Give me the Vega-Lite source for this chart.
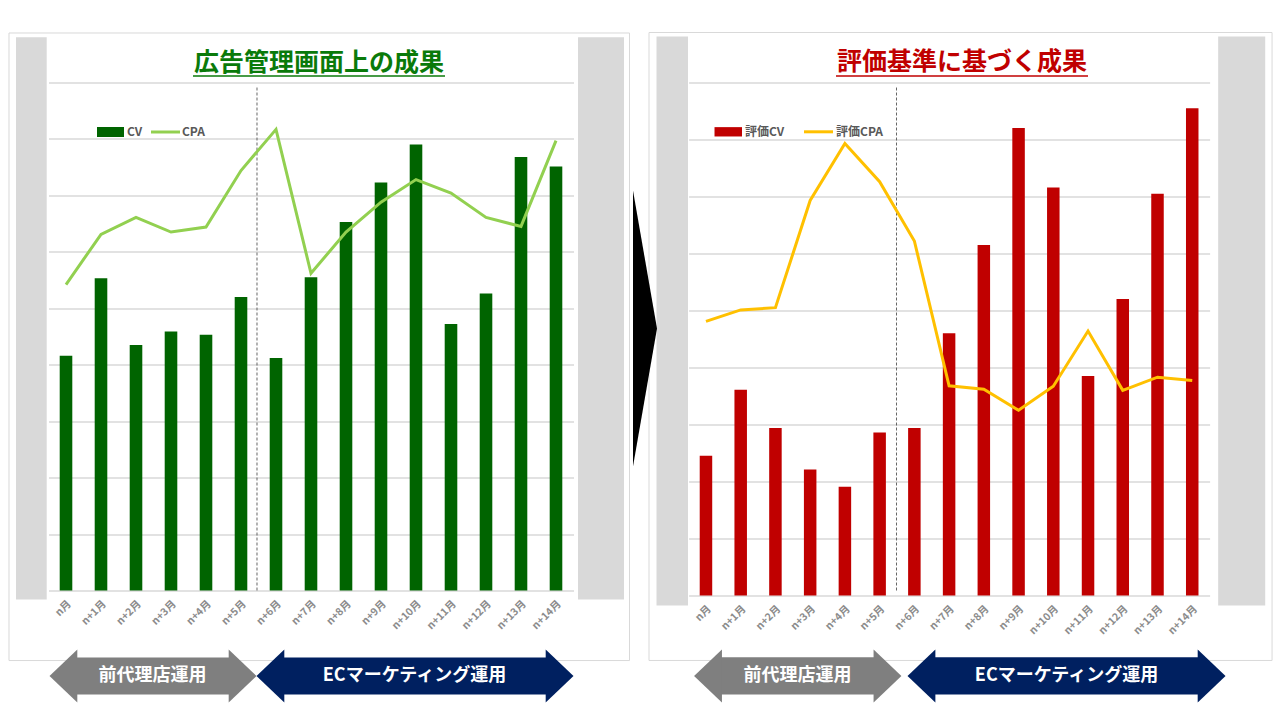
{
  "$schema": "https://vega.github.io/schema/vega-lite/v6.json",
  "background": "white",
  "padding": {"left": 7.5, "top": 31.5, "right": 0, "bottom": 0},
  "bounds": "flush",
  "spacing": 115.1,
  "config": {"view": {"stroke": null}, "font": "Noto Sans CJK JP"},
  "datasets": {
    "left": [
      {"month": "n月", "cv": 4.16, "cpa": 5.42},
      {"month": "n+1月", "cv": 5.53, "cpa": 6.31},
      {"month": "n+2月", "cv": 4.35, "cpa": 6.61},
      {"month": "n+3月", "cv": 4.59, "cpa": 6.35},
      {"month": "n+4月", "cv": 4.53, "cpa": 6.44},
      {"month": "n+5月", "cv": 5.2, "cpa": 7.44},
      {"month": "n+6月", "cv": 4.12, "cpa": 8.17},
      {"month": "n+7月", "cv": 5.55, "cpa": 5.62},
      {"month": "n+8月", "cv": 6.53, "cpa": 6.35},
      {"month": "n+9月", "cv": 7.23, "cpa": 6.88},
      {"month": "n+10月", "cv": 7.9, "cpa": 7.28},
      {"month": "n+11月", "cv": 4.72, "cpa": 7.04},
      {"month": "n+12月", "cv": 5.26, "cpa": 6.61},
      {"month": "n+13月", "cv": 7.68, "cpa": 6.45},
      {"month": "n+14月", "cv": 7.51, "cpa": 7.97}
    ],
    "right": [
      {"month": "n月", "cv": 2.45, "cpa": 4.81},
      {"month": "n+1月", "cv": 3.61, "cpa": 5.01},
      {"month": "n+2月", "cv": 2.94, "cpa": 5.05},
      {"month": "n+3月", "cv": 2.21, "cpa": 6.93},
      {"month": "n+4月", "cv": 1.91, "cpa": 7.93},
      {"month": "n+5月", "cv": 2.86, "cpa": 7.26},
      {"month": "n+6月", "cv": 2.94, "cpa": 6.22},
      {"month": "n+7月", "cv": 4.6, "cpa": 3.68},
      {"month": "n+8月", "cv": 6.15, "cpa": 3.62},
      {"month": "n+9月", "cv": 8.2, "cpa": 3.25},
      {"month": "n+10月", "cv": 7.16, "cpa": 3.67},
      {"month": "n+11月", "cv": 3.85, "cpa": 4.64},
      {"month": "n+12月", "cv": 5.2, "cpa": 3.6},
      {"month": "n+13月", "cv": 7.05, "cpa": 3.83},
      {"month": "n+14月", "cv": 8.55, "cpa": 3.77}
    ]
  },
  "hconcat": [
    {
      "width": 525,
      "height": 508,
      "layer": [
        {
          "data": {"values": [{}]},
          "layer": [
            {"mark": {"type": "rect", "filled": false, "stroke": "#d9d9d9", "strokeWidth": 1},
             "encoding": {"x": {"datum": -1.629, "type": "quantitative", "scale": {"domain": [-0.5, 14.5], "nice": false, "zero": false}, "axis": null}, "x2": {"datum": 16.1},
                          "y": {"datum": 9.877, "type": "quantitative", "scale": {"domain": [0, 9], "nice": false, "zero": false}, "axis": null}, "y2": {"datum": -1.241}}},
            {"mark": {"type": "rect", "color": "#d9d9d9"},
             "encoding": {"x": {"datum": -1.429, "type": "quantitative", "scale": {"domain": [-0.5, 14.5], "nice": false, "zero": false}, "axis": null}, "x2": {"datum": -0.551},
                          "y": {"datum": 9.803, "type": "quantitative", "scale": {"domain": [0, 9], "nice": false, "zero": false}, "axis": null}, "y2": {"datum": -0.16}}},
            {"mark": {"type": "rect", "color": "#d9d9d9"},
             "encoding": {"x": {"datum": 14.629, "type": "quantitative", "scale": {"domain": [-0.5, 14.5], "nice": false, "zero": false}, "axis": null}, "x2": {"datum": 15.943},
                          "y": {"datum": 9.803, "type": "quantitative", "scale": {"domain": [0, 9], "nice": false, "zero": false}, "axis": null}, "y2": {"datum": -0.16}}},
            {"mark": {"type": "text", "text": "広告管理画面上の成果", "fontSize": 25, "fontWeight": "bold", "color": "#0a7a0a", "align": "center", "baseline": "middle"},
             "encoding": {"x": {"datum": 7.229, "type": "quantitative", "scale": {"domain": [-0.5, 14.5], "nice": false, "zero": false}, "axis": null},
                          "y": {"datum": 9.354, "type": "quantitative", "scale": {"domain": [0, 9], "nice": false, "zero": false}, "axis": null}}},
            {"mark": {"type": "rule", "color": "#0a7a0a", "strokeWidth": 1.5},
             "encoding": {"x": {"datum": 3.629, "type": "quantitative", "scale": {"domain": [-0.5, 14.5], "nice": false, "zero": false}, "axis": null}, "x2": {"datum": 10.829},
                          "y": {"datum": 9.115, "type": "quantitative", "scale": {"domain": [0, 9], "nice": false, "zero": false}, "axis": null}}},
            {"mark": {"type": "rule", "color": "#404040", "strokeWidth": 0.8, "strokeDash": [3, 2]},
             "encoding": {"x": {"datum": 5.457, "type": "quantitative", "scale": {"domain": [-0.5, 14.5], "nice": false, "zero": false}, "axis": null},
                          "y": {"datum": 8.911, "type": "quantitative", "scale": {"domain": [0, 9], "nice": false, "zero": false}, "axis": null}, "y2": {"datum": -0.035}}},
            {"mark": {"type": "rect", "color": "#006400"},
             "encoding": {"x": {"datum": 0.886, "type": "quantitative", "scale": {"domain": [-0.5, 14.5], "nice": false, "zero": false}, "axis": null}, "x2": {"datum": 1.657},
                          "y": {"datum": 8.212, "type": "quantitative", "scale": {"domain": [0, 9], "nice": false, "zero": false}, "axis": null}, "y2": {"datum": 8.034}}},
            {"mark": {"type": "text", "text": "CV", "fontSize": 12, "fontWeight": "bold", "color": "#595959", "align": "left", "baseline": "middle"},
             "encoding": {"x": {"datum": 1.743, "type": "quantitative", "scale": {"domain": [-0.5, 14.5], "nice": false, "zero": false}, "axis": null},
                          "y": {"datum": 8.123, "type": "quantitative", "scale": {"domain": [0, 9], "nice": false, "zero": false}, "axis": null}}},
            {"mark": {"type": "rule", "color": "#92d050", "strokeWidth": 3},
             "encoding": {"x": {"datum": 2.429, "type": "quantitative", "scale": {"domain": [-0.5, 14.5], "nice": false, "zero": false}, "axis": null}, "x2": {"datum": 3.257},
                          "y": {"datum": 8.123, "type": "quantitative", "scale": {"domain": [0, 9], "nice": false, "zero": false}, "axis": null}}},
            {"mark": {"type": "text", "text": "CPA", "fontSize": 12, "fontWeight": "bold", "color": "#595959", "align": "left", "baseline": "middle"},
             "encoding": {"x": {"datum": 3.314, "type": "quantitative", "scale": {"domain": [-0.5, 14.5], "nice": false, "zero": false}, "axis": null},
                          "y": {"datum": 8.123, "type": "quantitative", "scale": {"domain": [0, 9], "nice": false, "zero": false}, "axis": null}}},
            {"mark": {"type": "rect", "color": "#7f7f7f"},
             "encoding": {"x": {"datum": 0.28, "type": "quantitative", "scale": {"domain": [-0.5, 14.5], "nice": false, "zero": false}, "axis": null}, "x2": {"datum": 4.69},
                          "y": {"datum": -1.188, "type": "quantitative", "scale": {"domain": [0, 9], "nice": false, "zero": false}, "axis": null}, "y2": {"datum": -1.843}}},
            {"mark": {"type": "point", "shape": "M0.05,-1L-1,0L0.05,1Z", "size": 2809, "filled": true, "opacity": 1, "color": "#7f7f7f", "strokeWidth": 0},
             "encoding": {"x": {"datum": 0.286, "type": "quantitative", "scale": {"domain": [-0.5, 14.5], "nice": false, "zero": false}, "axis": null},
                          "y": {"datum": -1.516, "type": "quantitative", "scale": {"domain": [0, 9], "nice": false, "zero": false}, "axis": null}}},
            {"mark": {"type": "point", "shape": "M-0.05,-1L1,0L-0.05,1Z", "size": 2809, "filled": true, "opacity": 1, "color": "#7f7f7f", "strokeWidth": 0},
             "encoding": {"x": {"datum": 4.686, "type": "quantitative", "scale": {"domain": [-0.5, 14.5], "nice": false, "zero": false}, "axis": null},
                          "y": {"datum": -1.516, "type": "quantitative", "scale": {"domain": [0, 9], "nice": false, "zero": false}, "axis": null}}},
            {"mark": {"type": "text", "text": "前代理店運用", "fontSize": 18, "fontWeight": "bold", "color": "white", "align": "center", "baseline": "middle"},
             "encoding": {"x": {"datum": 2.471, "type": "quantitative", "scale": {"domain": [-0.5, 14.5], "nice": false, "zero": false}, "axis": null},
                          "y": {"datum": -1.516, "type": "quantitative", "scale": {"domain": [0, 9], "nice": false, "zero": false}, "axis": null}}},
            {"mark": {"type": "rect", "color": "#002060"},
             "encoding": {"x": {"datum": 6.194, "type": "quantitative", "scale": {"domain": [-0.5, 14.5], "nice": false, "zero": false}, "axis": null}, "x2": {"datum": 13.749},
                          "y": {"datum": -1.188, "type": "quantitative", "scale": {"domain": [0, 9], "nice": false, "zero": false}, "axis": null}, "y2": {"datum": -1.843}}},
            {"mark": {"type": "point", "shape": "M0.05,-1L-1,0L0.05,1Z", "size": 2809, "filled": true, "opacity": 1, "color": "#002060", "strokeWidth": 0},
             "encoding": {"x": {"datum": 6.2, "type": "quantitative", "scale": {"domain": [-0.5, 14.5], "nice": false, "zero": false}, "axis": null},
                          "y": {"datum": -1.516, "type": "quantitative", "scale": {"domain": [0, 9], "nice": false, "zero": false}, "axis": null}}},
            {"mark": {"type": "point", "shape": "M-0.05,-1L1,0L-0.05,1Z", "size": 2809, "filled": true, "opacity": 1, "color": "#002060", "strokeWidth": 0},
             "encoding": {"x": {"datum": 13.743, "type": "quantitative", "scale": {"domain": [-0.5, 14.5], "nice": false, "zero": false}, "axis": null},
                          "y": {"datum": -1.516, "type": "quantitative", "scale": {"domain": [0, 9], "nice": false, "zero": false}, "axis": null}}},
            {"mark": {"type": "text", "text": "ECマーケティング運用", "fontSize": 18, "fontWeight": "bold", "color": "white", "align": "center", "baseline": "middle"},
             "encoding": {"x": {"datum": 9.957, "type": "quantitative", "scale": {"domain": [-0.5, 14.5], "nice": false, "zero": false}, "axis": null},
                          "y": {"datum": -1.516, "type": "quantitative", "scale": {"domain": [0, 9], "nice": false, "zero": false}, "axis": null}}}
          ]
        },
        {
          "data": {"name": "left"},
          "encoding": {
            "x": {"field": "month", "type": "nominal", "sort": null, "scale": {"paddingInner": 0.64, "paddingOuter": 0.32},
                  "axis": {"title": null, "labelAngle": -45, "labelAlign": "right", "labelBaseline": "top", "labelColor": "#8c8c8c", "labelFontSize": 10.5, "labelFontWeight": "bold", "labelPadding": 8, "ticks": false, "domain": false, "grid": false}}
          },
          "layer": [
            {"mark": {"type": "bar", "color": "#006400"},
             "encoding": {"y": {"field": "cv", "type": "quantitative", "scale": {"domain": [0, 9], "nice": false, "zero": true},
                                "axis": {"title": null, "values": [0, 1, 2, 3, 4, 5, 6, 7, 8, 9], "grid": true, "gridColor": "#d9d9d9", "gridWidth": 1.5, "labels": false, "ticks": false, "domain": false}}}},
            {"mark": {"type": "line", "color": "#92d050", "strokeWidth": 3},
             "encoding": {"y": {"field": "cpa", "type": "quantitative", "scale": {"domain": [0, 9], "nice": false, "zero": true},
                                "axis": {"title": null, "values": [0, 1, 2, 3, 4, 5, 6, 7, 8, 9], "grid": true, "gridColor": "#d9d9d9", "gridWidth": 1.5, "labels": false, "ticks": false, "domain": false}}}}
          ]
        }
      ],
      "resolve": {"scale": {"x": "independent", "y": "independent"}}
    },
    {
      "width": 521,
      "height": 513,
      "layer": [
        {
          "data": {"values": [{}]},
          "layer": [
            {"mark": {"type": "rect", "filled": false, "stroke": "#d9d9d9", "strokeWidth": 1},
             "encoding": {"x": {"datum": -1.64, "type": "quantitative", "scale": {"domain": [-0.5, 14.5], "nice": false, "zero": false}, "axis": null}, "x2": {"datum": 16.298},
                          "y": {"datum": 9.877, "type": "quantitative", "scale": {"domain": [0, 9], "nice": false, "zero": false}, "axis": null}, "y2": {"datum": -1.14}}},
            {"mark": {"type": "rect", "color": "#d9d9d9"},
             "encoding": {"x": {"datum": -1.424, "type": "quantitative", "scale": {"domain": [-0.5, 14.5], "nice": false, "zero": false}, "axis": null}, "x2": {"datum": -0.517},
                          "y": {"datum": 9.807, "type": "quantitative", "scale": {"domain": [0, 9], "nice": false, "zero": false}, "axis": null}, "y2": {"datum": -0.175}}},
            {"mark": {"type": "rect", "color": "#d9d9d9"},
             "encoding": {"x": {"datum": 14.747, "type": "quantitative", "scale": {"domain": [-0.5, 14.5], "nice": false, "zero": false}, "axis": null}, "x2": {"datum": 16.101},
                          "y": {"datum": 9.807, "type": "quantitative", "scale": {"domain": [0, 9], "nice": false, "zero": false}, "axis": null}, "y2": {"datum": -0.175}}},
            {"mark": {"type": "point", "shape": "M0,-1L0.174,0L0,1Z", "size": 76176, "filled": true, "opacity": 1, "color": "black", "strokeWidth": 0},
             "encoding": {"x": {"datum": -2.101, "type": "quantitative", "scale": {"domain": [-0.5, 14.5], "nice": false, "zero": false}, "axis": null},
                          "y": {"datum": 4.684, "type": "quantitative", "scale": {"domain": [0, 9], "nice": false, "zero": false}, "axis": null}}},
            {"mark": {"type": "text", "text": "評価基準に基づく成果", "fontSize": 25, "fontWeight": "bold", "color": "#c00000", "align": "center", "baseline": "middle"},
             "encoding": {"x": {"datum": 7.372, "type": "quantitative", "scale": {"domain": [-0.5, 14.5], "nice": false, "zero": false}, "axis": null},
                          "y": {"datum": 9.351, "type": "quantitative", "scale": {"domain": [0, 9], "nice": false, "zero": false}, "axis": null}}},
            {"mark": {"type": "rule", "color": "#c00000", "strokeWidth": 1.5},
             "encoding": {"x": {"datum": 3.744, "type": "quantitative", "scale": {"domain": [-0.5, 14.5], "nice": false, "zero": false}, "axis": null}, "x2": {"datum": 11.0},
                          "y": {"datum": 9.114, "type": "quantitative", "scale": {"domain": [0, 9], "nice": false, "zero": false}, "axis": null}}},
            {"mark": {"type": "rule", "color": "#404040", "strokeWidth": 0.8, "strokeDash": [3, 2]},
             "encoding": {"x": {"datum": 5.486, "type": "quantitative", "scale": {"domain": [-0.5, 14.5], "nice": false, "zero": false}, "axis": null},
                          "y": {"datum": 8.912, "type": "quantitative", "scale": {"domain": [0, 9], "nice": false, "zero": false}, "axis": null}, "y2": {"datum": 0.053}}},
            {"mark": {"type": "rect", "color": "#c00000"},
             "encoding": {"x": {"datum": 0.246, "type": "quantitative", "scale": {"domain": [-0.5, 14.5], "nice": false, "zero": false}, "axis": null}, "x2": {"datum": 1.038},
                          "y": {"datum": 8.217, "type": "quantitative", "scale": {"domain": [0, 9], "nice": false, "zero": false}, "axis": null}, "y2": {"datum": 8.053}}},
            {"mark": {"type": "text", "text": "評価CV", "fontSize": 12, "fontWeight": "bold", "color": "#595959", "align": "left", "baseline": "middle"},
             "encoding": {"x": {"datum": 1.124, "type": "quantitative", "scale": {"domain": [-0.5, 14.5], "nice": false, "zero": false}, "axis": null},
                          "y": {"datum": 8.135, "type": "quantitative", "scale": {"domain": [0, 9], "nice": false, "zero": false}, "axis": null}}},
            {"mark": {"type": "rule", "color": "#ffc000", "strokeWidth": 3},
             "encoding": {"x": {"datum": 2.823, "type": "quantitative", "scale": {"domain": [-0.5, 14.5], "nice": false, "zero": false}, "axis": null}, "x2": {"datum": 3.658},
                          "y": {"datum": 8.135, "type": "quantitative", "scale": {"domain": [0, 9], "nice": false, "zero": false}, "axis": null}}},
            {"mark": {"type": "text", "text": "評価CPA", "fontSize": 12, "fontWeight": "bold", "color": "#595959", "align": "left", "baseline": "middle"},
             "encoding": {"x": {"datum": 3.744, "type": "quantitative", "scale": {"domain": [-0.5, 14.5], "nice": false, "zero": false}, "axis": null},
                          "y": {"datum": 8.135, "type": "quantitative", "scale": {"domain": [0, 9], "nice": false, "zero": false}, "axis": null}}},
            {"mark": {"type": "rect", "color": "#7f7f7f"},
             "encoding": {"x": {"datum": 0.415, "type": "quantitative", "scale": {"domain": [-0.5, 14.5], "nice": false, "zero": false}, "axis": null}, "x2": {"datum": 4.87},
                          "y": {"datum": -1.082, "type": "quantitative", "scale": {"domain": [0, 9], "nice": false, "zero": false}, "axis": null}, "y2": {"datum": -1.737}}},
            {"mark": {"type": "point", "shape": "M0.05,-1L-1,0L0.05,1Z", "size": 2809, "filled": true, "opacity": 1, "color": "#7f7f7f", "strokeWidth": 0},
             "encoding": {"x": {"datum": 0.421, "type": "quantitative", "scale": {"domain": [-0.5, 14.5], "nice": false, "zero": false}, "axis": null},
                          "y": {"datum": -1.412, "type": "quantitative", "scale": {"domain": [0, 9], "nice": false, "zero": false}, "axis": null}}},
            {"mark": {"type": "point", "shape": "M-0.05,-1L1,0L-0.05,1Z", "size": 2809, "filled": true, "opacity": 1, "color": "#7f7f7f", "strokeWidth": 0},
             "encoding": {"x": {"datum": 4.864, "type": "quantitative", "scale": {"domain": [-0.5, 14.5], "nice": false, "zero": false}, "axis": null},
                          "y": {"datum": -1.412, "type": "quantitative", "scale": {"domain": [0, 9], "nice": false, "zero": false}, "axis": null}}},
            {"mark": {"type": "text", "text": "前代理店運用", "fontSize": 18, "fontWeight": "bold", "color": "white", "align": "center", "baseline": "middle"},
             "encoding": {"x": {"datum": 2.636, "type": "quantitative", "scale": {"domain": [-0.5, 14.5], "nice": false, "zero": false}, "axis": null},
                          "y": {"datum": -1.412, "type": "quantitative", "scale": {"domain": [0, 9], "nice": false, "zero": false}, "axis": null}}},
            {"mark": {"type": "rect", "color": "#002060"},
             "encoding": {"x": {"datum": 6.56, "type": "quantitative", "scale": {"domain": [-0.5, 14.5], "nice": false, "zero": false}, "axis": null}, "x2": {"datum": 14.202},
                          "y": {"datum": -1.082, "type": "quantitative", "scale": {"domain": [0, 9], "nice": false, "zero": false}, "axis": null}, "y2": {"datum": -1.737}}},
            {"mark": {"type": "point", "shape": "M0.05,-1L-1,0L0.05,1Z", "size": 2809, "filled": true, "opacity": 1, "color": "#002060", "strokeWidth": 0},
             "encoding": {"x": {"datum": 6.566, "type": "quantitative", "scale": {"domain": [-0.5, 14.5], "nice": false, "zero": false}, "axis": null},
                          "y": {"datum": -1.412, "type": "quantitative", "scale": {"domain": [0, 9], "nice": false, "zero": false}, "axis": null}}},
            {"mark": {"type": "point", "shape": "M-0.05,-1L1,0L-0.05,1Z", "size": 2809, "filled": true, "opacity": 1, "color": "#002060", "strokeWidth": 0},
             "encoding": {"x": {"datum": 14.196, "type": "quantitative", "scale": {"domain": [-0.5, 14.5], "nice": false, "zero": false}, "axis": null},
                          "y": {"datum": -1.412, "type": "quantitative", "scale": {"domain": [0, 9], "nice": false, "zero": false}, "axis": null}}},
            {"mark": {"type": "text", "text": "ECマーケティング運用", "fontSize": 18, "fontWeight": "bold", "color": "white", "align": "center", "baseline": "middle"},
             "encoding": {"x": {"datum": 10.381, "type": "quantitative", "scale": {"domain": [-0.5, 14.5], "nice": false, "zero": false}, "axis": null},
                          "y": {"datum": -1.412, "type": "quantitative", "scale": {"domain": [0, 9], "nice": false, "zero": false}, "axis": null}}}
          ]
        },
        {
          "data": {"name": "right"},
          "encoding": {
            "x": {"field": "month", "type": "nominal", "sort": null, "scale": {"paddingInner": 0.64, "paddingOuter": 0.32},
                  "axis": {"title": null, "labelAngle": -45, "labelAlign": "right", "labelBaseline": "top", "labelColor": "#8c8c8c", "labelFontSize": 10.5, "labelFontWeight": "bold", "labelPadding": 8, "ticks": false, "domain": false, "grid": false}}
          },
          "layer": [
            {"mark": {"type": "bar", "color": "#c00000"},
             "encoding": {"y": {"field": "cv", "type": "quantitative", "scale": {"domain": [0, 9], "nice": false, "zero": true},
                                "axis": {"title": null, "values": [0, 1, 2, 3, 4, 5, 6, 7, 8, 9], "grid": true, "gridColor": "#d9d9d9", "gridWidth": 1.5, "labels": false, "ticks": false, "domain": false}}}},
            {"mark": {"type": "line", "color": "#ffc000", "strokeWidth": 3},
             "encoding": {"y": {"field": "cpa", "type": "quantitative", "scale": {"domain": [0, 9], "nice": false, "zero": true},
                                "axis": {"title": null, "values": [0, 1, 2, 3, 4, 5, 6, 7, 8, 9], "grid": true, "gridColor": "#d9d9d9", "gridWidth": 1.5, "labels": false, "ticks": false, "domain": false}}}}
          ]
        }
      ],
      "resolve": {"scale": {"x": "independent", "y": "independent"}}
    }
  ]
}
